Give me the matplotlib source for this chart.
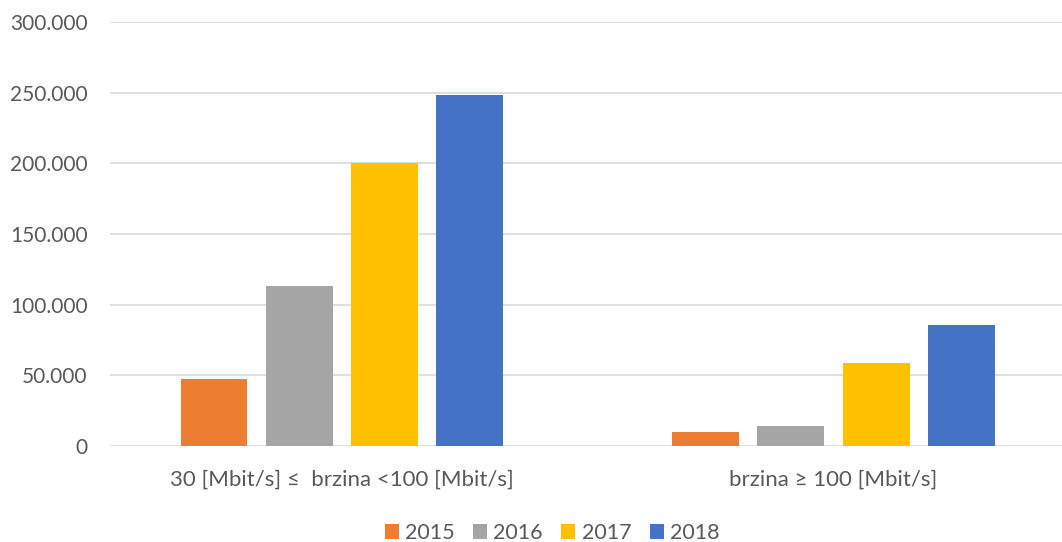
import matplotlib
matplotlib.use("Agg")
import matplotlib.pyplot as plt
from matplotlib.ticker import FuncFormatter
import numpy as np

categories = ["30 [Mbit/s] \u2264  brzina <100 [Mbit/s]", "brzina \u2265 100 [Mbit/s]"]
years = ["2015", "2016", "2017", "2018"]
values_2015 = [47500, 10000]
values_2016 = [113000, 14300]
values_2017 = [200500, 58700]
values_2018 = [248000, 85800]
series = [values_2015, values_2016, values_2017, values_2018]
colors = ["#ED7D31", "#A5A5A5", "#FFC000", "#4472C4"]

plt.rcParams['font.family'] = ['Lato', 'DejaVu Sans']

fig = plt.figure(figsize=(10.62, 5.42), dpi=100)
ax = fig.add_axes([110/1062, 1-446/542, 1-110/1062, (446-22)/542])

x = np.arange(len(categories))
step = 0.1735
width = 0.136
for i, (vals, c, y) in enumerate(zip(series, colors, years)):
    ax.bar(x + (i - 1.5) * step, vals, width=width, color=c, label=y, zorder=3)

ax.set_xlim(-0.472, 1.465)
ax.set_ylim(0, 300000)
ax.set_yticks(np.arange(0, 300001, 50000))
ax.yaxis.set_major_formatter(FuncFormatter(lambda v, p: f"{int(v):,}".replace(",", ".")))
ax.grid(axis='y', color='#D9D9D9', linewidth=1.2, zorder=0)
for s in ax.spines.values():
    s.set_visible(False)
ax.set_xticks(x)
ax.set_xticklabels(categories)
ax.tick_params(axis='both', length=0, colors='#595959')
ax.tick_params(axis='y', labelsize=15, pad=16)
ax.tick_params(axis='x', labelsize=16, pad=17)

fig.legend(loc='center', bbox_to_anchor=(552/1062, 1-533/542), ncol=4, frameon=False,
           fontsize=15.5, labelcolor='#595959', handlelength=0.65, handleheight=0.65,
           handletextpad=0.3, columnspacing=0.85)

fig.savefig("out.png", dpi=100)
